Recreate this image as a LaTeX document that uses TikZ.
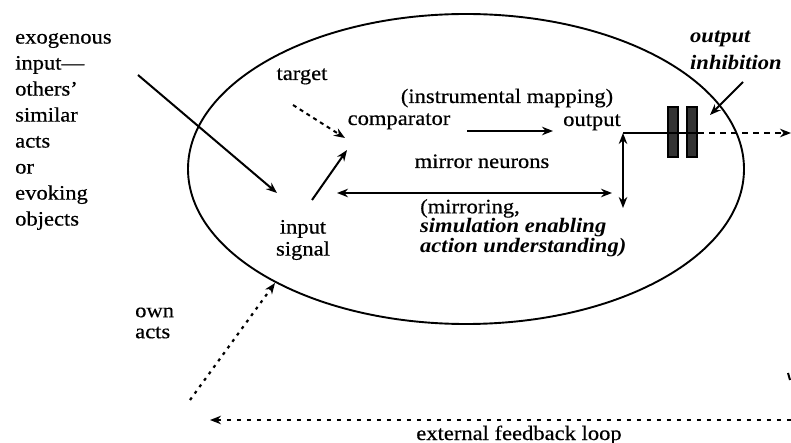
\documentclass[tikz,border=0pt]{standalone}
\usepackage{fontspec}
\setmainfont[FakeStretch=1.1, UprightFeatures={FakeBold=0.5}]{Liberation Serif}
\usetikzlibrary{arrows.meta,shapes.geometric}
\begin{document}
\begin{tikzpicture}[x=1pt,y=-1pt,
  lbl/.style={font=\fontsize{20.5}{26}\selectfont, inner sep=0},
  bilbl/.style={font=\fontsize{20.5}{27}\selectfont\bfseries\itshape, inner sep=0},
  tip/.style={-{Stealth[length=11pt,width=8.5pt]}},
  conn/.style={line width=2pt, tip},
  dconn/.style={line width=2pt, {Stealth[length=11pt,width=8.5pt]}-{Stealth[length=11pt,width=8.5pt]}},
  dashconn/.style={line width=2pt, tip, dash pattern=on 4pt off 4pt},
  dotconn/.style={line width=2.2pt, tip, dash pattern=on 3pt off 5pt},
  gatebar/.style={draw, line width=2.5pt, fill=black!80, minimum width=10pt, minimum height=50pt, inner sep=0}]
\useasboundingbox (0,0) rectangle (791,443);

% cell ellipse
\node[draw, ellipse, line width=1.9pt, minimum width=556pt, minimum height=310pt, inner sep=0] (cell) at (466,169) {};

% texts
\node[lbl, align=left, anchor=west] (exo) at (15,131.5) {exogenous\\input---\\others'\\similar\\acts\\or\\evoking\\objects};
\node[lbl, anchor=base] (target) at (302,80) {target};
\node[lbl, anchor=base] (comp) at (399,125) {comparator};
\node[lbl, anchor=base] (instr) at (507,103) {(instrumental mapping)};
\node[lbl, anchor=base] (out) at (592,126) {output};
\node[lbl, anchor=base] (mirror) at (482,168) {mirror neurons};
\node[lbl, align=left, anchor=west, font=\fontsize{20.5}{18}\selectfont] (mirroring) at (420,228)
  {(mirroring,\\{\bfseries\itshape simulation enabling}\\{\bfseries\itshape action understanding)}};
\node[lbl, align=center, font=\fontsize{20.5}{22}\selectfont] (input) at (303,240) {input\\signal};
\node[bilbl, align=left, anchor=west] (inhib) at (690,50) {output\\inhibition};
\node[lbl, align=left, anchor=west, font=\fontsize{20.5}{21}\selectfont] (own) at (135,323) {own\\acts};
\node[lbl, anchor=base] (ext) at (519,440) {external feedback loop};

% gate
\node[gatebar] (bar1) at (673,132) {};
\node[gatebar] (bar2) at (692,132) {};

% coordinates
\coordinate (exoS) at (138,75);
\coordinate (exoE) at (277,193);
\coordinate (tgS) at (293,105);
\coordinate (tgE) at (345,138);
\coordinate (inS) at (312,200);
\coordinate (inE) at (347,150);
\coordinate (cmpS) at (467,131);
\coordinate (cmpE) at (553,131);
\coordinate (mirL) at (337,193);
\coordinate (mirR) at (612,193);
\coordinate (vTop) at (623,133);
\coordinate (vBot) at (623,208);
\coordinate (outR) at (791,133);
\coordinate (ihS) at (743,82);
\coordinate (ihE) at (710,115);
\coordinate (ownS) at (190,400);
\coordinate (ownE) at (275,283);
\coordinate (fbR) at (791,420);
\coordinate (fbL) at (210,420);
\coordinate (markA) at (788,373);
\coordinate (markB) at (790,380);

% connectors
\draw[conn] (exoS) -- (exoE);
\draw[dashconn] (tgS) -- (tgE);
\draw[conn] (inS) -- (inE);
\draw[conn] (cmpS) -- (cmpE);
\draw[dconn] (mirL) -- (mirR);
\draw[dconn] (vTop) -- (vBot);
\draw[line width=2pt] (vTop) -- (vTop -| bar2.east);
\draw[line width=2pt, tip, dash pattern=on 6pt off 5pt] (vTop -| bar2.east) -- (outR);
\draw[conn] (ihS) -- (ihE);
\draw[dotconn] (ownS) -- (ownE);
\draw[line width=2.2pt, tip, dash pattern=on 4pt off 6pt] (fbR) -- (fbL);
\draw[line width=2pt] (markA) -- (markB);
\end{tikzpicture}
\end{document}
